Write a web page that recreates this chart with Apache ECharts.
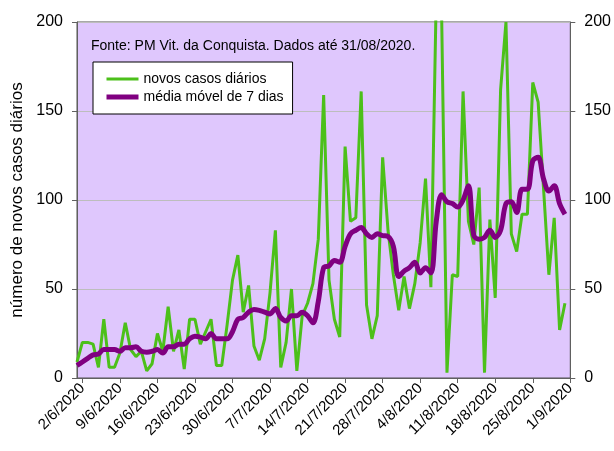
<!DOCTYPE html>
<html>
<head>
<meta charset="utf-8">
<script src="https://cdn.jsdelivr.net/npm/echarts@6/dist/echarts.min.js"></script>
<style>
html,body{margin:0;padding:0;background:#fff;}
#chart{width:614px;height:451px;}
</style>
</head>
<body>
<div id="chart"></div>
<script>
// Categories: daily from 1/6/2020 to 1/9/2020
const categories = [];
for (let i = 0; i < 93; i++) {
  const d = new Date(2020, 5, 1 + i);
  categories.push(d.getDate() + '/' + (d.getMonth() + 1) + '/2020');
}

const seriesNames = ['novos casos diários', 'média móvel de 7 dias'];

const novosCasos = [
  9, 20, 20, 19, 6, 33, 6, 6, 14, 31,
  16, 12, 15, 4, 8, 25, 15, 40, 15, 27,
  5, 33, 33, 19, 26, 33, 7, 7, 30, 55,
  69, 37, 52, 18, 10, 22, 48, 83, 6, 20,
  50, 4, 35, 42, 53, 78, 159, 55, 33, 23,
  130, 88, 90, 161, 41, 22, 35, 124, 83, 58,
  38, 57, 39, 53, 76, 112, 51, 215, 205, 3,
  58, 57, 161, 88, 75, 107, 3, 89, 45, 162,
  200, 81, 71, 92, 92, 166, 155, 107, 58, 90,
  27, 42
];

const mediaMovel = [
  7, 9, 11, 13, 13.5, 16, 16, 16, 15, 17,
  17, 17.5, 15, 14.5, 15, 16, 14, 17.5, 17.5, 19,
  19, 22, 23.5, 23, 22, 25, 22, 22, 22, 26,
  33, 34, 37, 38.5, 38, 37, 36, 39, 34, 32,
  35, 35, 37, 35, 31, 43, 62, 63, 66, 65,
  74, 81, 83, 84.5, 81, 79, 81, 80, 79.5, 74,
  57, 60, 62, 65, 59, 62, 59, 88, 103, 99,
  98, 96, 100, 108, 80, 78, 79, 83, 79, 83,
  98, 99, 93, 106, 106, 122, 124, 112, 105, 108,
  98, 92
];

const yTicks = [0, 50, 100, 150, 200];
const sourceText = 'Fonte: PM Vit. da Conquista. Dados até 31/08/2020.';
const yTitle = 'número de novos casos diários';

const FONT = "'Liberation Sans', Arial, sans-serif";
const chart = echarts.init(document.getElementById('chart'), null, {renderer: 'canvas'});

const showIdx = (i) => (i - 1) % 7 === 0;

const yAxisBase = {
  type: 'value',
  min: yTicks[0],
  max: yTicks[yTicks.length - 1],
  interval: 50,
  axisLine: {show: true, lineStyle: {color: '#606060', width: 1}},
  axisTick: {show: true, inside: false, length: 5, lineStyle: {color: '#606060'}},
  axisLabel: {color: '#000', fontSize: 16, fontFamily: FONT, margin: 14},
};

chart.setOption({
  backgroundColor: '#ffffff',
  animation: false,
  textStyle: {fontFamily: FONT},
  title: {
    text: sourceText,
    left: 91, top: 39, padding: 0,
    textStyle: {fontSize: 14, fontWeight: 'normal', color: '#000', fontFamily: FONT}
  },
  legend: {
    orient: 'vertical',
    left: 93, top: 62,
    padding: [10, 9, 10, 11],
    itemGap: 4,
    itemWidth: 32,
    itemHeight: 14,
    backgroundColor: '#ffffff',
    borderColor: '#000000',
    borderWidth: 1,
    borderRadius: 0,
    itemStyle: {opacity: 0},
    textStyle: {fontSize: 14, color: '#000', fontFamily: FONT},
    data: [
      {name: seriesNames[0], lineStyle: {width: 3, color: '#4cc01a'}},
      {name: seriesNames[1], lineStyle: {width: 5, color: '#800080'}}
    ]
  },
  grid: {
    left: 77, right: 43, top: 22, bottom: 73,
    show: true,
    backgroundColor: '#dfc7fd',
    borderColor: '#505050',
    borderWidth: 1
  },
  xAxis: {
    type: 'category',
    data: categories,
    boundaryGap: false,
    axisLine: {show: true, lineStyle: {color: '#606060'}},
    axisTick: {show: true, interval: (i) => showIdx(i), length: 5, lineStyle: {color: '#606060'}},
    axisLabel: {
      interval: (i) => showIdx(i),
      rotate: 45,
      color: '#000',
      fontSize: 15,
      fontFamily: FONT,
      margin: 8
    },
    splitLine: {show: false}
  },
  yAxis: [
    Object.assign({}, yAxisBase, {
      position: 'left',
      name: yTitle,
      nameLocation: 'middle',
      nameGap: 48,
      nameTextStyle: {fontSize: 17, color: '#000', fontFamily: FONT},
      splitLine: {show: true, lineStyle: {color: '#bdbdbd', width: 1}}
    }),
    Object.assign({}, yAxisBase, {
      position: 'right',
      splitLine: {show: false}
    })
  ],
  series: [
    {
      name: seriesNames[0],
      type: 'line',
      data: novosCasos,
      symbol: 'none',
      clip: true,
      lineStyle: {color: '#4cc01a', width: 3},
      itemStyle: {color: '#4cc01a'},
      z: 2
    },
    {
      name: seriesNames[1],
      type: 'line',
      data: mediaMovel,
      symbol: 'none',
      smooth: 0.35,
      clip: true,
      lineStyle: {color: '#800080', width: 5},
      itemStyle: {color: '#800080'},
      z: 3
    }
  ]
});
</script>
</body>
</html>
